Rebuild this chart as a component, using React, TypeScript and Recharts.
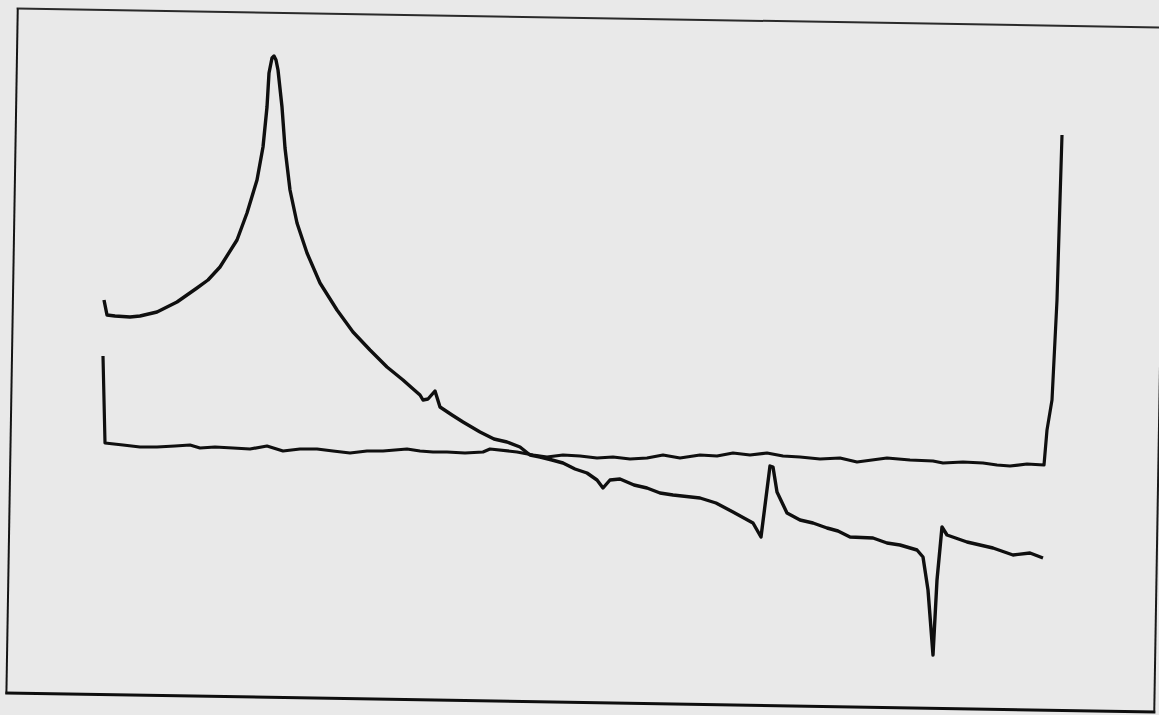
import React from "react";
import { LineChart, Line, XAxis, YAxis } from "recharts";

// Trace 1: resonance-like peak curve with spikes (x position, amplitude)
const peakX = [104, 107, 115, 130, 140, 157, 177, 197, 208, 220, 237, 247, 257, 263, 267, 269, 272, 274, 276, 278, 282, 285, 290, 297, 307, 320, 337, 353, 370, 387, 403, 412, 420, 423, 428, 435, 440, 452, 463, 480, 494, 507, 520, 530, 540, 552, 563, 575, 587, 597, 603, 610, 620, 634, 647, 660, 673, 700, 716, 733, 753, 761, 770, 773, 777, 787, 800, 813, 827, 838, 850, 873, 887, 900, 917, 923, 928, 933, 937, 942, 947, 967, 980, 993, 1013, 1030, 1043];
const peakY = [415, 400, 399, 398, 399, 403, 413, 427, 435, 448, 475, 502, 535, 568, 608, 642, 657, 659, 655, 645, 608, 567, 525, 492, 462, 432, 405, 383, 365, 348, 335, 327, 320, 315, 316, 324, 308, 300, 293, 283, 276, 273, 268, 260, 258, 255, 252, 246, 242, 235, 227, 235, 236, 230, 227, 222, 220, 217, 212, 203, 192, 178, 249, 248, 223, 202, 195, 192, 187, 184, 178, 177, 172, 170, 165, 158, 125, 60, 135, 188, 180, 173, 170, 167, 160, 162, 157];

// Trace 2: baseline trace with step at both ends
const baseX = [103, 105, 123, 140, 157, 175, 190, 200, 215, 233, 250, 267, 283, 300, 317, 333, 350, 367, 383, 407, 420, 433, 447, 465, 483, 490, 517, 533, 547, 563, 580, 597, 613, 630, 647, 663, 680, 700, 717, 733, 750, 767, 783, 800, 820, 840, 857, 872, 887, 910, 933, 943, 963, 983, 997, 1010, 1027, 1044, 1047, 1052, 1057, 1060, 1062];
const baseY = [359, 272, 270, 268, 268, 269, 270, 267, 268, 267, 266, 269, 264, 266, 266, 264, 262, 264, 264, 266, 264, 263, 263, 262, 263, 266, 263, 260, 258, 260, 259, 257, 258, 256, 257, 260, 257, 260, 259, 262, 260, 262, 259, 258, 256, 257, 253, 255, 257, 255, 254, 252, 253, 252, 250, 249, 251, 250, 285, 315, 415, 515, 580];

const peakData = peakX.map((x, i) => ({ x, y: peakY[i] }));
const baseData = baseX.map((x, i) => ({ x, y: baseY[i] }));

export default function App() {
  return (
    <div
      style={{
        position: "fixed",
        left: 0,
        top: 0,
        width: 1159,
        height: 715,
        background: "#e9e9e9",
        overflow: "hidden",
      }}
    >
      <div
        style={{
          position: "absolute",
          left: 11,
          top: 17,
          width: 1150,
          height: 687,
          boxSizing: "border-box",
          borderTop: "2px solid #2a2a2a",
          borderRight: "2px solid #1a1a1a",
          borderBottom: "3px solid #0e0e0e",
          borderLeft: "2px solid #151515",
          transform: "rotate(0.95deg)",
          transformOrigin: "center",
        }}
      />
      <div style={{ position: "absolute", left: 0, top: 0 }}>
        <LineChart width={1159} height={715} margin={{ top: 0, right: 0, bottom: 0, left: 0 }}>
          <XAxis type="number" dataKey="x" domain={[0, 1159]} hide allowDataOverflow />
          <YAxis type="number" domain={[0, 715]} hide allowDataOverflow />
          <Line
            data={peakData}
            dataKey="y"
            type="linear"
            stroke="#0f0f0f"
            strokeWidth={3.4}
            strokeLinejoin="round"
            dot={false}
            activeDot={false}
            isAnimationActive={false}
          />
          <Line
            data={baseData}
            dataKey="y"
            type="linear"
            stroke="#0f0f0f"
            strokeWidth={3.2}
            strokeLinejoin="round"
            dot={false}
            activeDot={false}
            isAnimationActive={false}
          />
        </LineChart>
      </div>
    </div>
  );
}
